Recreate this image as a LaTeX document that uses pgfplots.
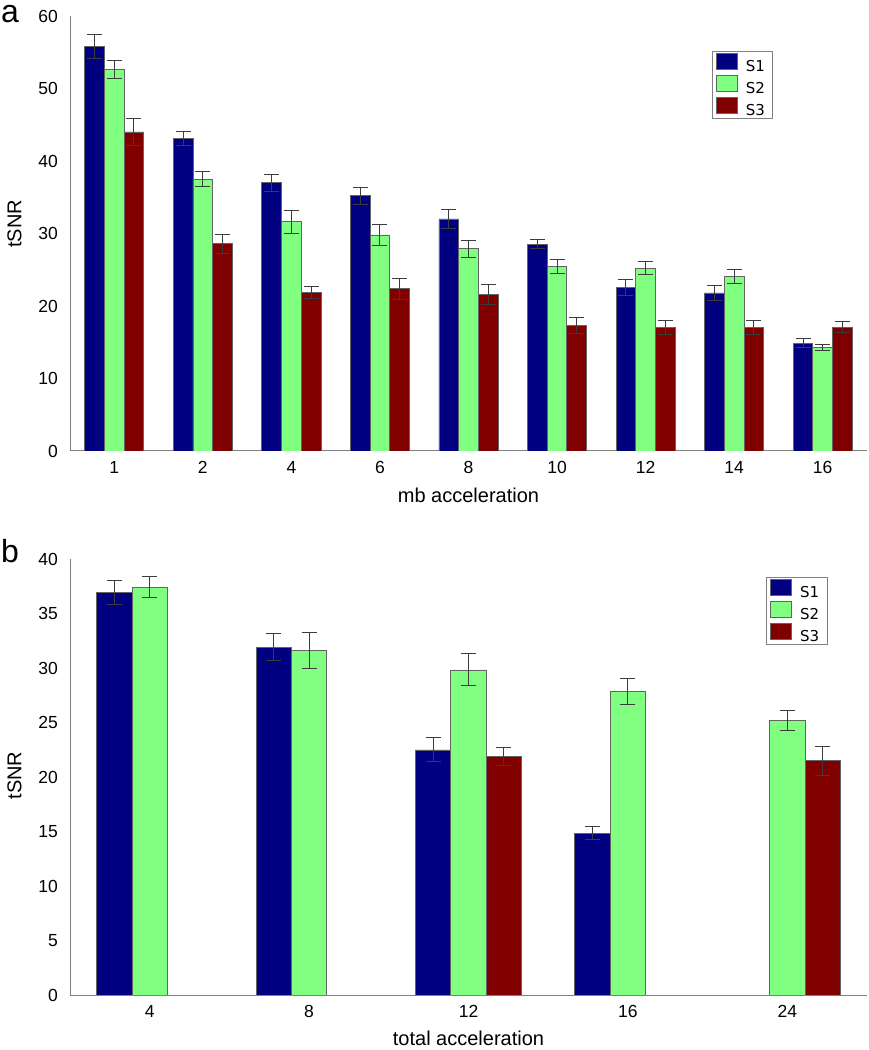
\documentclass[border=0pt]{standalone}
\usepackage{pgfplots}
\pgfplotsset{compat=1.18}
\usepackage{fontspec}
\setmainfont{Liberation Sans}
\newfontfamily\legfont{DejaVu Sans}
\definecolor{sone}{RGB}{0,0,128}
\definecolor{stwo}{RGB}{128,255,128}
\definecolor{sthree}{RGB}{128,0,0}
\definecolor{edge}{RGB}{100,100,100}
\definecolor{errc}{RGB}{60,60,60}
\definecolor{axc}{RGB}{128,128,128}

\pgfplotstableread{
x y e
0 55.8 1.7
1 43.1 0.9
2 37.0 1.15
3 35.2 1.2
4 32.0 1.3
5 28.55 0.65
6 22.5 1.1
7 21.8 1.0
8 14.85 0.6
}\topone
\pgfplotstableread{
x y e
0 52.6 1.2
1 37.5 1.0
2 31.6 1.6
3 29.8 1.45
4 27.9 1.2
5 25.5 0.95
6 25.2 0.9
7 24.1 0.95
8 14.3 0.45
}\toptwo
\pgfplotstableread{
x y e
0 44.0 1.8
1 28.6 1.3
2 21.9 0.85
3 22.4 1.45
4 21.6 1.35
5 17.3 1.1
6 17.0 0.95
7 17.05 1.0
8 17.1 0.7
}\topthree
\pgfplotstableread{
x y e
0 37.0 1.1
1 31.95 1.2
2 22.5 1.1
3 14.86 0.57
}\botone
\pgfplotstableread{
x y e
0 37.46 1.0
1 31.6 1.65
2 29.85 1.47
3 27.9 1.2
4 25.2 0.9
}\bottwo
\pgfplotstableread{
x y e
2 21.9 0.8
4 21.5 1.35
}\botthree

\pgfplotsset{
  mystyle/.style={
    scale only axis, width=797bp,
    axis x line=bottom, axis y line=left,
    axis line style={axc, line width=1bp, -},
    major tick length=0pt,
    ymin=0,
    ybar=0pt,
    tick label style={font=\fontsize{17.5bp}{20bp}\selectfont},
    /pgf/number format/assume math mode=true,
    yticklabel style={inner sep=0pt, xshift=-12bp, anchor=east},
    xticklabel style={inner sep=0pt, yshift=-10bp, anchor=north},
    legend cell align=left,
    legend image code/.code={\draw[##1, draw=edge, line width=0.8bp] (0bp,-2.6bp) rectangle (21bp,13.4bp);},
    legend style={draw=axc, line width=1bp, font=\legfont\fontsize{15bp}{17bp}\selectfont,
      inner xsep=4bp, inner ysep=1.5bp, row sep=2bp,
      nodes={inner ysep=0pt, inner xsep=4bp},
      /tikz/every odd column/.append style={column sep=4bp}},
  },
  eb/.style={draw=edge, line width=0.8bp,
    /pgfplots/error bars/y dir=both, /pgfplots/error bars/y explicit,
    /pgfplots/error bars/error bar style={errc, line width=1bp},
    /pgfplots/error bars/error mark options={errc, line width=1bp, mark size=7.5bp, rotate=90}},
}

\begin{document}
\begin{tikzpicture}
\useasboundingbox (0bp,0bp) rectangle (869bp,1050bp);
\begin{axis}[mystyle,
  at={(70bp,599bp)}, anchor=south west, height=435bp,
  bar width=19.68bp,
  xmin=-0.5, xmax=8.5, ymax=60,
  xtick={0,...,8}, xticklabels={1,2,4,6,8,10,12,14,16},
  ytick={0,10,...,60},
  xlabel={mb acceleration}, ylabel={tSNR},
  every axis x label/.style={at={(axis description cs:0.5,-0.101)}, anchor=center, inner sep=0pt, font=\fontsize{20bp}{24bp}\selectfont},
  every axis y label/.style={at={(axis description cs:-0.0696,0.522)}, rotate=90, anchor=center, inner sep=0pt, font=\fontsize{20bp}{24bp}\selectfont},
  legend style={at={(axis description cs:0.805,0.9195)}, anchor=north west},
]
\addplot[fill=sone, eb] table[x=x, y=y, y error=e] {\topone};
\addplot[fill=stwo, eb] table[x=x, y=y, y error=e] {\toptwo};
\addplot[fill=sthree, eb] table[x=x, y=y, y error=e] {\topthree};
\legend{S1,S2,S3}
\end{axis}
\begin{axis}[mystyle,
  at={(70bp,55bp)}, anchor=south west, height=435.6bp,
  bar width=35.4bp,
  xmin=-0.5, xmax=4.5, ymax=40,
  xtick={0,...,4}, xticklabels={4,8,12,16,24},
  ytick={0,5,...,40},
  xlabel={total acceleration}, ylabel={tSNR},
  every axis x label/.style={at={(axis description cs:0.5,-0.0987)}, anchor=center, inner sep=0pt, font=\fontsize{20bp}{24bp}\selectfont},
  every axis y label/.style={at={(axis description cs:-0.0696,0.504)}, rotate=90, anchor=center, inner sep=0pt, font=\fontsize{20bp}{24bp}\selectfont},
  legend style={at={(axis description cs:0.873,0.96)}, anchor=north west},
]
\addplot[fill=sone, eb] table[x=x, y=y, y error=e] {\botone};
\addplot[fill=stwo, eb] table[x=x, y=y, y error=e] {\bottwo};
\addplot[fill=sthree, eb] table[x=x, y=y, y error=e] {\botthree};
\legend{S1,S2,S3}
\end{axis}
\node[anchor=base west, inner sep=0pt, font=\fontsize{32bp}{36bp}\selectfont] at (1bp,1027bp) {a};
\node[anchor=base west, inner sep=0pt, font=\fontsize{32bp}{36bp}\selectfont] at (1bp,487bp) {b};
\end{tikzpicture}
\end{document}
